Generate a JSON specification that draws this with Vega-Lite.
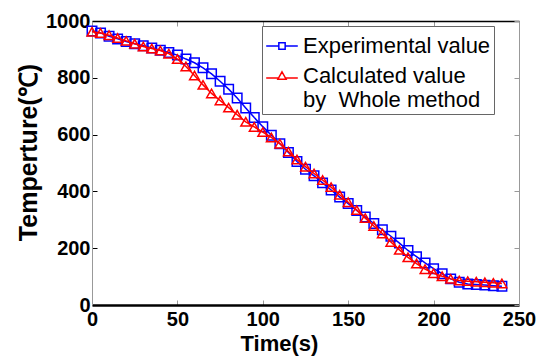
{
  "$schema": "https://vega.github.io/schema/vega-lite/v6.json",
  "width": 427,
  "height": 284,
  "autosize": "none",
  "padding": {"left": 92, "top": 21, "right": 21, "bottom": 52},
  "background": "white",
  "config": {
    "view": {"stroke": null},
    "font": "Liberation Sans"
  },
  "data": {"values": [
    {"t":0,"v":965,"s":"Experimental value"},{"t":5,"v":958,"s":"Experimental value"},{"t":10,"v":946,"s":"Experimental value"},{"t":15,"v":937,"s":"Experimental value"},{"t":20,"v":928,"s":"Experimental value"},{"t":25,"v":920,"s":"Experimental value"},{"t":30,"v":913,"s":"Experimental value"},{"t":35,"v":905,"s":"Experimental value"},{"t":40,"v":897,"s":"Experimental value"},{"t":45,"v":889,"s":"Experimental value"},{"t":50,"v":880,"s":"Experimental value"},{"t":55,"v":866,"s":"Experimental value"},{"t":60,"v":853,"s":"Experimental value"},{"t":65,"v":835,"s":"Experimental value"},{"t":70,"v":814,"s":"Experimental value"},{"t":75,"v":788,"s":"Experimental value"},{"t":80,"v":760,"s":"Experimental value"},{"t":85,"v":729,"s":"Experimental value"},{"t":90,"v":694,"s":"Experimental value"},{"t":95,"v":660,"s":"Experimental value"},{"t":100,"v":628,"s":"Experimental value"},{"t":105,"v":598,"s":"Experimental value"},{"t":110,"v":568,"s":"Experimental value"},{"t":115,"v":537,"s":"Experimental value"},{"t":120,"v":505,"s":"Experimental value"},{"t":125,"v":478,"s":"Experimental value"},{"t":130,"v":455,"s":"Experimental value"},{"t":135,"v":430,"s":"Experimental value"},{"t":140,"v":405,"s":"Experimental value"},{"t":145,"v":380,"s":"Experimental value"},{"t":150,"v":357,"s":"Experimental value"},{"t":155,"v":333,"s":"Experimental value"},{"t":160,"v":310,"s":"Experimental value"},{"t":165,"v":287,"s":"Experimental value"},{"t":170,"v":265,"s":"Experimental value"},{"t":175,"v":242,"s":"Experimental value"},{"t":180,"v":218,"s":"Experimental value"},{"t":185,"v":192,"s":"Experimental value"},{"t":190,"v":170,"s":"Experimental value"},{"t":195,"v":148,"s":"Experimental value"},{"t":200,"v":128,"s":"Experimental value"},{"t":205,"v":110,"s":"Experimental value"},{"t":210,"v":92,"s":"Experimental value"},{"t":215,"v":80,"s":"Experimental value"},{"t":220,"v":74,"s":"Experimental value"},{"t":225,"v":72,"s":"Experimental value"},{"t":230,"v":70,"s":"Experimental value"},{"t":235,"v":68,"s":"Experimental value"},{"t":240,"v":66,"s":"Experimental value"},
    {"t":0,"v":962,"s":"Calculated value"},{"t":5,"v":958,"s":"Calculated value"},{"t":10,"v":950,"s":"Calculated value"},{"t":15,"v":940,"s":"Calculated value"},{"t":20,"v":930,"s":"Calculated value"},{"t":25,"v":920,"s":"Calculated value"},{"t":30,"v":910,"s":"Calculated value"},{"t":35,"v":903,"s":"Calculated value"},{"t":40,"v":896,"s":"Calculated value"},{"t":45,"v":885,"s":"Calculated value"},{"t":50,"v":866,"s":"Calculated value"},{"t":55,"v":840,"s":"Calculated value"},{"t":60,"v":808,"s":"Calculated value"},{"t":65,"v":775,"s":"Calculated value"},{"t":70,"v":745,"s":"Calculated value"},{"t":75,"v":720,"s":"Calculated value"},{"t":80,"v":695,"s":"Calculated value"},{"t":85,"v":670,"s":"Calculated value"},{"t":90,"v":645,"s":"Calculated value"},{"t":95,"v":627,"s":"Calculated value"},{"t":100,"v":609,"s":"Calculated value"},{"t":105,"v":590,"s":"Calculated value"},{"t":110,"v":568,"s":"Calculated value"},{"t":115,"v":540,"s":"Calculated value"},{"t":120,"v":512,"s":"Calculated value"},{"t":125,"v":487,"s":"Calculated value"},{"t":130,"v":463,"s":"Calculated value"},{"t":135,"v":440,"s":"Calculated value"},{"t":140,"v":415,"s":"Calculated value"},{"t":145,"v":388,"s":"Calculated value"},{"t":150,"v":362,"s":"Calculated value"},{"t":155,"v":334,"s":"Calculated value"},{"t":160,"v":306,"s":"Calculated value"},{"t":165,"v":278,"s":"Calculated value"},{"t":170,"v":252,"s":"Calculated value"},{"t":175,"v":222,"s":"Calculated value"},{"t":180,"v":194,"s":"Calculated value"},{"t":185,"v":168,"s":"Calculated value"},{"t":190,"v":146,"s":"Calculated value"},{"t":195,"v":126,"s":"Calculated value"},{"t":200,"v":112,"s":"Calculated value"},{"t":205,"v":101,"s":"Calculated value"},{"t":210,"v":92,"s":"Calculated value"},{"t":215,"v":86,"s":"Calculated value"},{"t":220,"v":84,"s":"Calculated value"},{"t":225,"v":82,"s":"Calculated value"},{"t":230,"v":80,"s":"Calculated value"},{"t":235,"v":78,"s":"Calculated value"},{"t":240,"v":76,"s":"Calculated value"}
  ]},
  "resolve": {"axis": {"x": "independent", "y": "independent"}},
  "layer": [
    {
      "transform": [{"filter": "datum.s == 'Experimental value'"}],
      "mark": {"type": "line", "strokeWidth": 1.5, "color": "#0000ff",
        "point": {"shape": "square", "filled": false, "color": "#0000ff", "size": 90, "strokeWidth": 1.5}},
      "encoding": {
        "x": {"field": "t", "type": "quantitative", "scale": {"domain": [0, 250], "nice": false},
          "axis": {"orient": "bottom", "values": [0, 50, 100, 150, 200, 250], "grid": false, "format": "d",
            "domainColor": "black", "domainWidth": 2.5, "tickColor": "#999999", "tickSize": -5, "labelPadding": 9,
            "labelFont": "Liberation Sans", "labelFontWeight": "bold", "labelFontSize": 20, "labelColor": "black",
            "labelFlush": false, "labelOverlap": false, "title": "Time(s)", "titleFont": "Liberation Sans", "titleFontSize": 22, "titleFontWeight": "bold",
            "titleColor": "black", "titleX": 187, "titleY": 45, "titleBaseline": "alphabetic"}},
        "y": {"field": "v", "type": "quantitative", "scale": {"domain": [0, 1000], "nice": false},
          "axis": {"orient": "left", "values": [0, 200, 400, 600, 800, 1000], "grid": false, "format": "d",
            "domainColor": "#999999", "domainWidth": 1, "tickColor": "black", "tickSize": -5, "labelPadding": 7,
            "labelFont": "Liberation Sans", "labelFontWeight": "bold", "labelFontSize": 20, "labelColor": "black",
            "labelFlush": false, "labelOverlap": false, "title": "Temperture(℃)", "titleFont": "Liberation Sans", "titleFontSize": 25, "titleFontWeight": "bold",
            "titleColor": "black", "titleX": -56, "titleY": 131, "titleAngle": -90, "titleAlign": "center", "titleBaseline": "alphabetic"}}
      }
    },
    {
      "transform": [{"filter": "datum.s == 'Calculated value'"}],
      "mark": {"type": "line", "strokeWidth": 1.5, "color": "#ff0000",
        "point": {"shape": "triangle-up", "filled": false, "color": "#ff0000", "size": 95, "strokeWidth": 1.5}},
      "encoding": {
        "x": {"field": "t", "type": "quantitative",
          "axis": {"orient": "top", "values": [0, 50, 100, 150, 200, 250], "labels": false, "title": null, "grid": false,
            "domainColor": "black", "domainWidth": 1.5, "tickColor": "#999999", "tickSize": -5}},
        "y": {"field": "v", "type": "quantitative",
          "axis": {"orient": "right", "values": [0, 200, 400, 600, 800, 1000], "labels": false, "title": null, "grid": false,
            "domainColor": "#999999", "domainWidth": 1, "tickColor": "#999999", "tickSize": -5}}
      }
    },
    {
      "mark": {"type": "point", "filled": false, "strokeOpacity": 0},
      "encoding": {
        "x": {"field": "t", "type": "quantitative", "axis": null},
        "y": {"field": "v", "type": "quantitative", "axis": null},
        "color": {"field": "s", "type": "nominal",
          "scale": {"domain": ["Experimental value", "Calculated value"], "range": ["#0000ff", "#ff0000"]},
          "legend": {"orient": "none", "legendX": 170, "legendY": 5, "title": null,
            "strokeColor": "#666666", "padding": 3, "labelFont": "Liberation Sans", "labelFontSize": 22, "labelColor": "black",
            "labelLimit": 400, "labelOffset": 4, "symbolSize": 1000, "symbolStrokeWidth": 1.5, "symbolOpacity": 1, "rowPadding": 2,
            "labelExpr": "datum.label == 'Calculated value' ? ['Calculated value', 'by\u00a0\u00a0Whole method'] : datum.label",
            "encode": {"labels": {"update": {"lineHeight": {"value": 26}}}}}},
        "shape": {"field": "s", "type": "nominal",
          "scale": {"domain": ["Experimental value", "Calculated value"],
            "range": ["M-1,0H-0.2M0.2,0H1M-0.2,-0.2H0.2V0.2H-0.2Z", "M-1,0.12H-0.24M0.24,0.12H1M0,-0.26L0.26,0.2H-0.26Z"]},
          "legend": {"orient": "none", "legendX": 170, "legendY": 5, "title": null,
            "strokeColor": "#666666", "padding": 3, "labelFont": "Liberation Sans", "labelFontSize": 22, "labelColor": "black",
            "labelLimit": 400, "labelOffset": 4, "symbolSize": 1000, "symbolStrokeWidth": 1.5, "symbolOpacity": 1, "rowPadding": 2,
            "labelExpr": "datum.label == 'Calculated value' ? ['Calculated value', 'by\u00a0\u00a0Whole method'] : datum.label",
            "encode": {"labels": {"update": {"lineHeight": {"value": 26}}}}}}
      }
    }
  ]
}
